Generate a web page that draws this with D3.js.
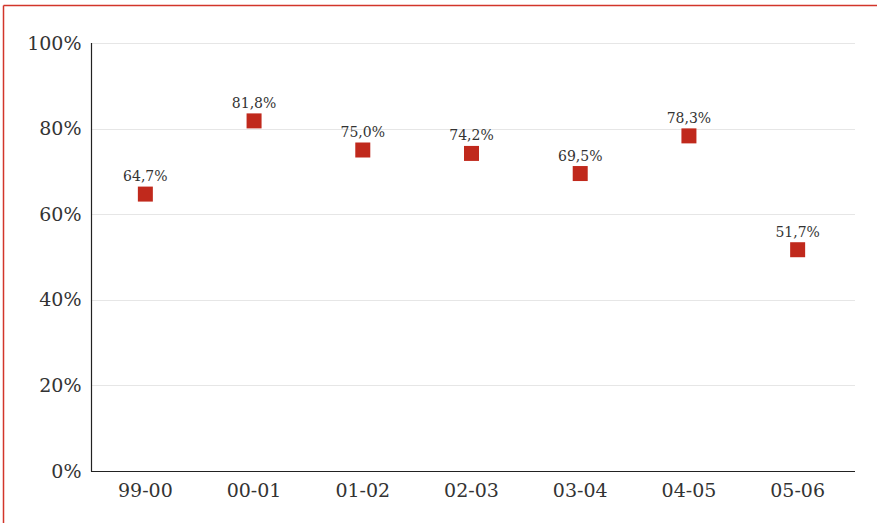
<!DOCTYPE html>
<html>
<head>
<meta charset="utf-8">
<script src="https://cdn.jsdelivr.net/npm/d3@7"></script>
<style>
  html, body { margin: 0; padding: 0; background: #fff; }
  svg { display: block; }
</style>
</head>
<body>
<svg id="chart" width="877" height="523"></svg>
<script>
// Season categories and their share values (percent)
const seasons = ["99-00", "00-01", "01-02", "02-03", "03-04", "04-05", "05-06"];
const shares = [64.7, 81.8, 75.0, 74.2, 69.5, 78.3, 51.7];
const yTicks = [0, 20, 40, 60, 80, 100];

const W = 877, H = 523;
const plotLeft = 91, plotRight = 855, plotTop = 43, plotBottom = 471;
const fontFamily = "'DejaVu Serif', serif";
const textColor = "#333";

const svg = d3.select("#chart");

// Frame: red rule along the top and the left edge
svg.append("line").attr("x1", 3.5).attr("x2", W).attr("y1", 5.5).attr("y2", 5.5)
  .attr("stroke", "#d2352a").attr("stroke-width", 1.5);
svg.append("line").attr("x1", 3.5).attr("x2", 3.5).attr("y1", 5.5).attr("y2", H)
  .attr("stroke", "#d2352a").attr("stroke-width", 1.5);

const x = d3.scaleBand().domain(seasons).range([plotLeft, 852]).padding(0);
const y = d3.scaleLinear().domain([0, 100]).range([plotBottom, plotTop]);

// Horizontal gridlines
svg.append("g").selectAll("line").data(yTicks.filter(d => d > 0)).join("line")
  .attr("x1", plotLeft).attr("x2", plotRight)
  .attr("y1", d => Math.round(y(d)) + 0.5).attr("y2", d => Math.round(y(d)) + 0.5)
  .attr("stroke", "#e6e6e6").attr("stroke-width", 1);

// Y axis
const yAxis = svg.append("g")
  .attr("transform", `translate(${plotLeft + 0.5},0)`)
  .call(d3.axisLeft(y).tickValues(yTicks).tickFormat(d => d + "%").tickSize(0).tickPadding(10));
yAxis.select(".domain").remove();
yAxis.selectAll("text").attr("font-family", fontFamily).attr("font-size", 19).attr("fill", textColor);
svg.append("line").attr("x1", plotLeft + 0.5).attr("x2", plotLeft + 0.5)
  .attr("y1", plotTop).attr("y2", Math.round(y(0)) + 0.5)
  .attr("stroke", "#222").attr("stroke-width", 1.2);

// X axis
const xAxis = svg.append("g")
  .attr("transform", `translate(0,${Math.round(y(0)) + 0.5})`)
  .call(d3.axisBottom(x).tickSize(0).tickPadding(12));
xAxis.select(".domain").remove();
xAxis.selectAll("text").attr("font-family", fontFamily).attr("font-size", 19).attr("fill", textColor);
svg.append("line").attr("x1", plotLeft).attr("x2", plotRight)
  .attr("y1", Math.round(y(0)) + 0.5).attr("y2", Math.round(y(0)) + 0.5)
  .attr("stroke", "#222").attr("stroke-width", 1.2);

// Square markers
const size = 15;
svg.append("g").selectAll("rect").data(seasons).join("rect")
  .attr("x", (d) => x(d) + x.bandwidth() / 2 - size / 2)
  .attr("y", (d, i) => y(shares[i]) - size / 2)
  .attr("width", size).attr("height", size)
  .attr("fill", "#c0291c");

// Value labels above markers
svg.append("g").selectAll("text").data(seasons).join("text")
  .attr("x", (d) => x(d) + x.bandwidth() / 2)
  .attr("y", (d, i) => y(shares[i]) - 13)
  .attr("text-anchor", "middle")
  .attr("font-family", fontFamily).attr("font-size", 14).attr("fill", textColor)
  .text((d, i) => shares[i].toFixed(1).replace(".", ",") + "%");
</script>
</body>
</html>
